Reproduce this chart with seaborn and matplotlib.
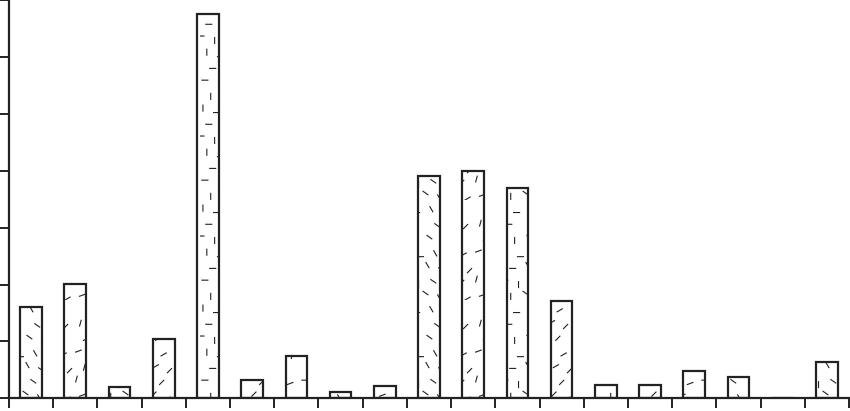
# ── IMPORTS ──────────────────────────────────────────────────
import numpy as np
import pandas as pd
import matplotlib
matplotlib.use("Agg")
import matplotlib.pyplot as plt
import matplotlib.hatch as mhatch
from matplotlib.path import Path
import seaborn as sns


# ── DATA ─────────────────────────────────────────────────────
categories = [f"C{i}" for i in range(1, 20)]
values = [16.0, 20.1, 1.9, 10.4, 67.5, 3.3, 7.5, 1.1, 2.1, 39.0,
          39.9, 37.0, 17.1, 2.3, 2.3, 4.8, 3.7, 0.0, 6.4]
y_ticks = [0, 10, 20, 30, 40, 50, 60, 70]


# ── CUSTOM "SCATTERED DASH" HATCH ────────────────────────────
# short dashes spread over the hatch cell with a golden-ratio sequence
N_DASH = 42
DASH_LEN = 0.06
_k = np.arange(1, N_DASH + 1)
DASH_X = (0.5 + _k * 0.7548776662) % 1.0
DASH_Y = (0.5 + _k * 0.5698402910) % 1.0
DASH_ANG = np.deg2rad(np.array([45, -35, 0, 75, 30, -60, 90, 20])[_k % 8])


class DashHatch(mhatch.HatchPatternBase):
    def __init__(self, hatch, density):
        self.num_lines = hatch.count("~") * N_DASH
        self.num_vertices = self.num_lines * 2

    def set_vertices_and_codes(self, vertices, codes):
        reps = self.num_lines // N_DASH
        dx = np.tile(np.cos(DASH_ANG), reps) * DASH_LEN / 2
        dy = np.tile(np.sin(DASH_ANG), reps) * DASH_LEN / 2
        cx = np.tile(DASH_X, reps)
        cy = np.tile(DASH_Y, reps)
        vertices[0::2, 0] = cx - dx
        vertices[0::2, 1] = cy - dy
        vertices[1::2, 0] = cx + dx
        vertices[1::2, 1] = cy + dy
        codes[0::2] = Path.MOVETO
        codes[1::2] = Path.LINETO


mhatch._hatch_types.append(DashHatch)
mhatch._validate_hatch_pattern = lambda hatch: None
plt.rcParams["hatch.linewidth"] = 0.8


# ── PLOT ─────────────────────────────────────────────────────
sns.set_style("ticks")
df = pd.DataFrame({"cat": categories, "val": values})

fig = plt.figure(figsize=(8.5, 4.11), dpi=100)
ax = fig.add_axes([9 / 850, 12.7 / 411, 840 / 850, 398.3 / 411])

sns.barplot(data=df, x="cat", y="val", color="white", edgecolor="#222222",
            linewidth=1.6, width=0.49, saturation=1, ax=ax)
for p in ax.patches:
    p.set_hatch("~")

ax.set_xlim(-0.5, len(categories) - 0.5)
ax.set_ylim(0, 70)
ax.set_xticks(np.arange(-0.5, len(categories), 1.0))
ax.set_yticks(y_ticks)
ax.set_xticklabels([])
ax.set_yticklabels([])
ax.set_xlabel("")
ax.set_ylabel("")
ax.tick_params(axis="both", direction="out", length=7, width=1.4,
               color="#222222")

for side in ["top", "right"]:
    ax.spines[side].set_visible(False)
for side in ["left", "bottom"]:
    ax.spines[side].set_linewidth(1.6)
    ax.spines[side].set_color("#222222")

fig.savefig("out.png", dpi=100)
